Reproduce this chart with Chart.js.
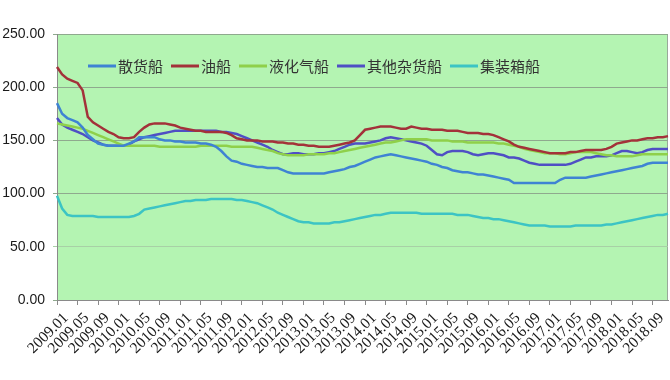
<!DOCTYPE html>
<html>
<head>
<meta charset="utf-8">
<script src="https://cdn.jsdelivr.net/npm/chart.js@4"></script>
<style>
html,body{margin:0;padding:0;background:#fff;}
#wrap{width:670px;height:380px;position:relative;}
</style>
</head>
<body>
<div id="wrap"><canvas id="c" width="670" height="380"></canvas></div>
<script>
// Categories: monthly 2009.01 - 2018.12
const years = [2009,2010,2011,2012,2013,2014,2015,2016,2017,2018];
const months = ['01','02','03','04','05','06','07','08','09','10','11','12'];
const categories = [];
years.forEach(y => months.forEach(m => categories.push(y + '.' + m)));

const seriesNames = ['散货船','油船','液化气船','其他杂货船','集装箱船'];

const bulk = [
 185,175,171,169,167,162,155,151,147,146,145,145,
 145,145,147,149,153,153,153,153,151,150,150,149,
 149,148,148,148,147,147,146,144,140,135,131,130,
 128,127,126,125,125,124,124,124,122,120,119,119,
 119,119,119,119,119,120,121,122,123,125,126,128,
 130,132,134,135,136,137,136,135,134,133,132,131,
 130,128,127,125,124,122,121,120,120,119,118,118,
 117,116,115,114,113,110,110,110,110,110,110,110,
 110,110,113,115,115,115,115,115,116,117,118,119,
 120,121,122,123,124,125,126,128,129,129,129,129
];
const tanker = [
 219,212,208,206,204,197,172,167,164,161,158,156,
 153,152,152,153,158,162,165,166,166,166,165,164,
 162,161,160,159,159,158,158,158,158,157,155,152,
 151,150,150,150,149,149,149,148,148,147,147,146,
 146,145,145,144,144,144,145,146,147,148,150,155,
 160,161,162,163,163,163,162,161,161,163,162,161,
 161,160,160,160,159,159,159,158,157,157,157,156,
 156,155,153,151,149,146,144,143,142,141,140,139,
 138,138,138,138,139,139,140,141,141,141,141,142,
 144,147,148,149,150,150,151,152,152,153,153,154
];
const lpg = [
 166,165,164,163,162,161,159,157,155,153,151,149,
 147,145,145,145,145,145,145,145,144,144,144,144,
 144,144,144,144,145,145,145,145,145,145,144,144,
 144,144,144,143,142,141,140,138,137,136,136,136,
 136,137,137,137,137,138,138,139,140,141,142,143,
 144,145,146,147,148,148,149,150,151,151,151,151,
 151,150,150,150,150,149,149,149,148,148,148,148,
 148,148,147,147,146,145,144,142,141,140,139,138,
 138,138,137,137,138,139,139,139,139,138,137,136,
 136,135,135,135,135,136,137,137,137,137,137,137
];
const generalCargo = [
 171,165,162,160,158,156,153,150,148,146,145,145,
 145,145,146,149,151,153,154,155,156,157,158,159,
 159,159,159,159,159,159,159,159,158,158,157,156,
 154,152,150,148,146,144,141,139,137,137,138,138,
 137,137,137,138,138,139,140,142,144,146,147,147,
 147,148,149,150,152,153,152,151,150,149,148,147,
 145,141,137,136,139,140,140,140,139,137,136,137,
 138,138,137,136,134,134,133,131,129,128,127,127,
 127,127,127,127,128,130,132,134,134,135,135,135,
 136,138,140,140,139,138,139,141,142,142,142,142
];
const container = [
 98,86,80,79,79,79,79,79,78,78,78,78,
 78,78,78,79,81,85,86,87,88,89,90,91,
 92,93,93,94,94,94,95,95,95,95,95,94,
 94,93,92,91,89,87,85,82,80,78,76,74,
 73,73,72,72,72,72,73,73,74,75,76,77,
 78,79,80,80,81,82,82,82,82,82,82,81,
 81,81,81,81,81,81,80,80,80,79,78,77,
 77,76,76,75,74,73,72,71,70,70,70,70,
 69,69,69,69,69,70,70,70,70,70,70,71,
 71,72,73,74,75,76,77,78,79,80,80,81
];
const yTicks = [0,50,100,150,200,250];

const colors = ['#3f83d3','#a3323a','#8fd04a','#4f4fc4','#3cc4c4'];
const seriesData = [bulk, tanker, lpg, generalCargo, container];

const plotBg = {
  id:'plotBg',
  beforeDraw(chart){
    const {ctx, chartArea:a} = chart;
    ctx.save();
    ctx.fillStyle = '#b4f4b2';
    ctx.fillRect(a.left, a.top, a.right - a.left, a.bottom - a.top);
    ctx.strokeStyle = '#9aa89a';
    ctx.lineWidth = 1;
    ctx.beginPath();
    ctx.moveTo(a.right - 0.5, a.top);
    ctx.lineTo(a.right - 0.5, a.bottom);
    ctx.stroke();
    ctx.restore();
  }
};
// Legend drawn inside the plot area, one row, from the datasets
const innerLegend = {
  id:'innerLegend',
  afterDraw(chart){
    const {ctx, chartArea:a} = chart;
    ctx.save();
    ctx.font = '15px "Noto Sans CJK SC", sans-serif';
    ctx.textBaseline = 'middle';
    ctx.textAlign = 'left';
    let x = a.left + 31;
    const y = a.top + 32;
    chart.data.datasets.forEach(ds => {
      ctx.strokeStyle = ds.borderColor;
      ctx.lineWidth = 3;
      ctx.beginPath();
      ctx.moveTo(x, y);
      ctx.lineTo(x + 28, y);
      ctx.stroke();
      x += 30;
      ctx.fillStyle = '#333';
      ctx.fillText(ds.label, x, y);
      x += ctx.measureText(ds.label).width + 8;
    });
    ctx.restore();
  }
};

new Chart(document.getElementById('c'), {
  type:'line',
  data:{
    labels: categories,
    datasets: seriesNames.map((n,i)=>({
      label:n,
      data:seriesData[i],
      borderColor:colors[i],
      backgroundColor:colors[i],
      borderWidth:2.5,
      pointRadius:0,
      tension:0,
      fill:false
    }))
  },
  options:{
    responsive:false,
    animation:false,
    devicePixelRatio:1,
    layout:{padding:{left:0,top:34,right:2,bottom:0}},
    plugins:{
      tooltip:{enabled:false},
      legend:{display:false}
    },
    scales:{
      x:{
        offset:false,
        afterFit(s){ s.height = 80; },
        grid:{display:true, drawOnChartArea:false, drawTicks:true, tickLength:5, color:'#8a8a8a'},
        border:{display:true, color:'#8a8a8a', width:1},
        ticks:{
          autoSkip:false,
          maxRotation:45, minRotation:45,
          padding:4,
          labelOffset:9,
          color:'#1a1a1a',
          font:{family:'"Liberation Serif", serif', size:15.5},
          callback(v, i){ return (i % 4 === 0) ? categories[i] : null; }
        }
      },
      y:{
        min:0, max:250,
        afterFit(s){ s.width = 57; },
        afterBuildTicks(s){ s.ticks = yTicks.map(v=>({value:v})); },
        grid:{color:(c)=> c.tick && c.tick.value === 50 ? '#a8d0a6' : '#8fa98e', lineWidth:1, tickLength:4},
        border:{display:true, color:'#8a8a8a', width:1},
        ticks:{
          padding:8,
          color:'#1a1a1a',
          font:{family:'"Liberation Sans", Arial, sans-serif', size:14},
          callback(v){ return Number(v).toFixed(2); }
        }
      }
    }
  },
  plugins:[plotBg, innerLegend]
});
</script>
</body>
</html>
